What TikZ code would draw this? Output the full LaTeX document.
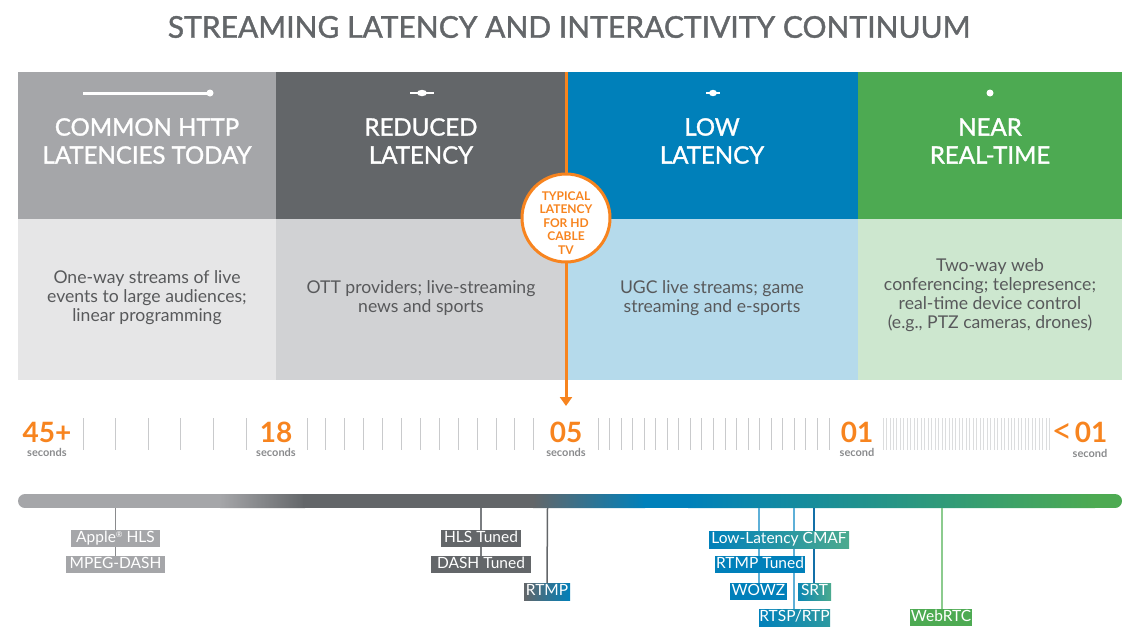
\documentclass[tikz,border=0pt]{standalone}
\usepackage{fontspec}
\setmainfont{Lato}
\newfontfamily\medfont{Lato}[FakeBold=1.3]
\usetikzlibrary{arrows.meta}
\definecolor{lgray}{HTML}{A5A6A9}
\definecolor{dgray}{HTML}{636669}
\definecolor{blu}{HTML}{0080BA}
\definecolor{grn}{HTML}{4DAA52}
\definecolor{lgrayL}{HTML}{E6E6E7}
\definecolor{dgrayL}{HTML}{D1D2D4}
\definecolor{bluL}{HTML}{B5DAEB}
\definecolor{grnL}{HTML}{CDE7CF}
\definecolor{org}{HTML}{F7841F}
\definecolor{txt}{HTML}{58595B}
\definecolor{tickc}{HTML}{C9CACC}
\definecolor{tickd}{HTML}{DCDDDE}
\definecolor{tealc}{HTML}{4BAA8E}
\definecolor{secc}{HTML}{8A8B8D}
\definecolor{lnb}{HTML}{5EB0D8}
\definecolor{lnd}{HTML}{1370A8}
\definecolor{lng}{HTML}{8CCB8E}
\begin{document}
\begin{tikzpicture}[x=1pt,y=-1pt,
  htext/.style={text=white, align=center, font=\medfont\fontsize{24}{28}\selectfont, inner sep=0},
  btext/.style={text=txt, align=center, font=\fontsize{17.6}{19}\selectfont, inner sep=0},
  num/.style={text=org, font=\bfseries\fontsize{28}{28}\selectfont, inner sep=0},
  secs/.style={text=secc, font=\bfseries\fontsize{11}{11}\selectfont, inner sep=0},
  tk/.style={tickc, line width=1pt},
  tkd/.style={tickd, line width=0.8pt},
  lab/.style={text=white, font=\fontsize{15.5}{15.5}\selectfont, inner xsep=0, inner ysep=0,
     minimum height=17pt, text height=10.5pt, text depth=3.3pt},
  conn/.style={line width=1.5pt}
]
\useasboundingbox (0,0) rectangle (1140,638);

% title
\node[text=dgray, font=\medfont\fontsize{30}{30}\selectfont, inner sep=0] (title) at (569,27) {STREAMING LATENCY AND INTERACTIVITY CONTINUUM};

% header boxes
\fill[lgray] (18,72) rectangle (276,219);
\fill[dgray] (276,72) rectangle (566,219);
\fill[blu] (566,72) rectangle (858,219);
\fill[grn] (858,72) rectangle (1122,219);
\fill[lgrayL] (18,219) rectangle (276,380);
\fill[dgrayL] (276,219) rectangle (566,380);
\fill[bluL] (566,219) rectangle (858,380);
\fill[grnL] (858,219) rectangle (1122,380);

% icons
\draw[white, line width=3pt] (83,93) -- (210,93);
\fill[white] (210,93) circle (3.5);
\draw[white, line width=2.5pt] (410,93) -- (434,93);
\fill[white] (422,93) ellipse (5 and 3.2);
\draw[white, line width=2.5pt] (706,93) -- (720,93);
\fill[white] (713,93) ellipse (4 and 3.2);
\fill[white] (990,93) circle (3.5);

% header texts
\node[htext] (h1) at (147,141) {COMMON HTTP\\LATENCIES TODAY};
\node[htext] (h2) at (421,141) {REDUCED\\LATENCY};
\node[htext] (h3) at (712,141) {LOW\\LATENCY};
\node[htext] (h4) at (990,141) {NEAR\\REAL-TIME};

% body texts
\node[btext] (c1) at (147,298) {One-way streams of live\\events to large audiences;\\linear programming};
\node[btext] (c2) at (421,298.5) {OTT providers; live-streaming\\news and sports};
\node[btext] (c3) at (712,298.5) {UGC live streams; game\\streaming and e-sports};
\node[btext] (c4) at (990,295.5) {Two-way web\\conferencing; telepresence;\\real-time device control\\(e.g., PTZ cameras, drones)};

% orange marker
\coordinate (otop) at (566,72);
\coordinate (obot) at (566,406);
\draw[org, line width=3pt, -{Triangle[width=12pt,length=9pt]}] (otop) -- (obot);
\node[circle, draw=org, line width=3pt, fill=white, minimum size=88pt, inner sep=0] (typ) at (566,218) {};
\node[text=org, align=center, font=\bfseries\fontsize{12}{13.6}\selectfont, inner sep=0] (typt) at (566,223) {TYPICAL\\LATENCY\\FOR HD\\CABLE\\TV};

% ticks
\foreach \i in {0,...,5} \draw[tk] (83+32.6*\i,418) -- (83+32.6*\i,450);
\foreach \i in {0,...,12} \draw[tk] (307+18.9*\i,418) -- (307+18.9*\i,450);
\foreach \i in {0,...,20} \draw[tk] (598+11.55*\i,418) -- (598+11.55*\i,450);
\foreach \i in {0,...,48} \draw[tkd] (883+3.47*\i,418) -- (883+3.47*\i,450);

% numbers
\node[num] (n45) at (47,432) {45+};
\node[num] (n18) at (276,432) {18};
\node[num] (n05) at (566,432) {05};
\node[num] (n01) at (857,432) {01};
\node[text=org, font=\fontsize{36}{36}\selectfont, inner sep=0] (nlt) at (1062,433) {<};
\node[num] (n01b) at (1091,432) {01};
\node[secs] (s45) at (47,452) {seconds};
\node[secs] (s18) at (276,452) {seconds};
\node[secs] (s05) at (566,452) {seconds};
\node[secs] (s01) at (857,452) {second};
\node[secs] (s01b) at (1090,453) {second};

% gradient bar
\begin{scope}
\clip[rounded corners=7pt] (18,494) rectangle (1122,508);
\fill[lgray] (18,494) rectangle (222,508);
\shade[left color=lgray, right color=dgray] (220,494) rectangle (305,508);
\fill[dgray] (303,494) rectangle (535,508);
\shade[left color=dgray, right color=blu] (533,494) rectangle (645,508);
\fill[blu] (643,494) rectangle (690,508);
\shade[left color=blu, right color=grn] (688,494) rectangle (1095,508);
\fill[grn] (1093,494) rectangle (1122,508);
\end{scope}

% bar anchor coordinates
\coordinate (b1) at (115.5,508);
\coordinate (b2) at (481,508);
\coordinate (b3) at (547.5,508);
\coordinate (b4) at (759,508);
\coordinate (b5) at (794,508);
\coordinate (b6) at (814,508);
\coordinate (b7) at (942,508);

% label boxes (positions)
\path (115.5,564.5) node[lab, minimum width=99pt] (mpeg) {};
\path (481,564.5) node[lab, minimum width=100pt] (dasht) {};
\path (547,591.5) node[lab, minimum width=46pt] (rtmp) {};
\path (758.5,591.5) node[lab, minimum width=57pt] (wowz) {};
\path (794.5,617.5) node[lab, minimum width=71pt] (rtsp) {};
\path (814.5,591.5) node[lab, minimum width=33pt] (srt) {};
\path (941,617.5) node[lab, minimum width=62pt] (webrtc) {};

% connectors
\draw[conn, secc] (b1) -- (mpeg.north);
\draw[conn, dgray!85] (b2) -- (dasht.north);
\draw[conn, dgray] (b3) -- (rtmp.north);
\draw[conn, lnb] (b4) -- (wowz.north -| b4);
\draw[conn, lnb] (b5) -- (rtsp.north -| b5);
\draw[conn, lnd] (b6) -- (srt.north -| b6);
\draw[conn, lng] (b7) -- (webrtc.north -| b7);

% boxes drawn
\node[lab, minimum width=89pt, fill=lgray] (apple) at (115.5,538.5) {Apple{\fontsize{8}{8}\selectfont\raisebox{5pt}{®}} HLS};
\node[lab, minimum width=99pt, fill=lgray] at (mpeg) {MPEG-DASH};
\node[lab, minimum width=80pt, fill=dgray] (hlst) at (481,538.5) {HLS Tuned};
\node[lab, minimum width=100pt, fill=dgray] at (dasht) {DASH Tuned};
\node[lab, minimum width=46pt, left color=dgray, right color=blu] at (rtmp) {RTMP};
\node[lab, minimum width=140pt, left color=blu, middle color=blu!90!tealc, right color=tealc] (cmaf) at (779,539.5) {Low-Latency CMAF};
\node[lab, minimum width=90pt, fill=blu] (rtmpt) at (760,564.5) {RTMP Tuned};
\node[lab, minimum width=57pt, fill=blu] at (wowz) {WOWZ};
\node[lab, minimum width=33pt, left color=blu!85!tealc, right color=tealc] at (srt) {SRT};
\node[lab, minimum width=71pt, left color=blu, right color=blu!40!tealc] at (rtsp) {RTSP/RTP};
\node[lab, minimum width=62pt, fill=grn] at (webrtc) {WebRTC};
\end{tikzpicture}
\end{document}
